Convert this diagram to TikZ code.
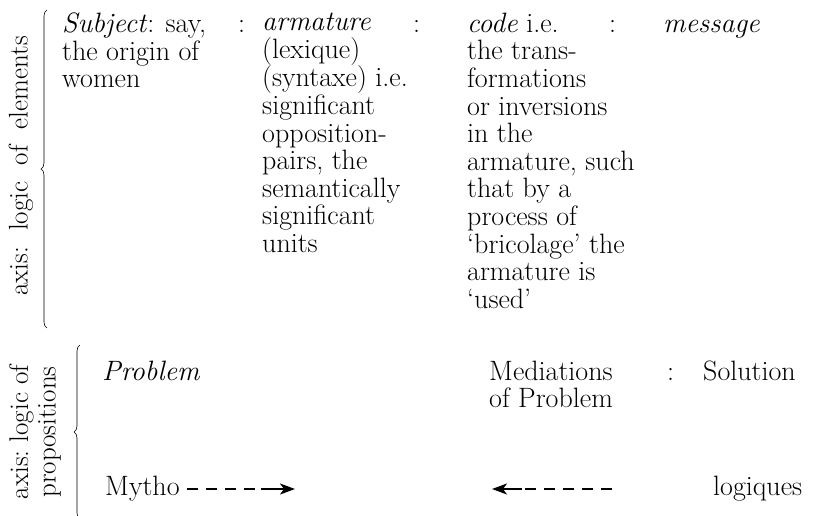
\documentclass[tikz,border=0pt]{standalone}
\usepackage{tikz}
\usetikzlibrary{arrows.meta}
\usetikzlibrary{decorations.pathreplacing}
\newcommand\bigtxt{\fontsize{28}{27.6}\selectfont}
\newcommand\axistxt{\fontsize{27}{27.6}\selectfont}

\begin{document}
\begin{tikzpicture}[x=1pt,y=-1pt,>={Stealth[length=15pt,width=11pt,inset=4pt]}]
    \tikzstyle{txt}=[anchor=north west, inner sep=0pt, align=left, font=\bigtxt, text=black, execute at begin node=\strut]
    \tikzstyle{colon}=[style=txt]
    \tikzstyle{axislabel}=[rotate=90, align=center, inner sep=0pt, font=\axistxt]
    \tikzstyle{bracket}=[decorate, decoration={brace,amplitude=6pt}, line width=0.6pt]
    \tikzstyle{dashline}=[line width=1.5pt, dash pattern=on 11pt off 8pt]
    \tikzstyle{headarrow}=[->, line width=1.5pt]
    \useasboundingbox (0,0) rectangle (815,515);

    % axis of elements
    \node[axislabel] (axel) at (21,166) {axis:\ \ logic\ \ of\ \ elements};
    \draw[bracket] (47,328) -- (47,10);
    \node[txt] (subj) at (62,12.7)  {\textit{Subject}: say,\\the origin of\\women};
    \node[colon] (c1) at (238,12.7) {:};
    \node[txt] (arm)  at (262,12.7) {\textit{armature}\\(lexique)\\(syntaxe) i.e.\\significant\\opposition-\\pairs, the\\semantically\\significant\\units};
    \node[colon] (c2) at (413,12.7) {:};
    \node[txt] (code) at (467,12.7) {\textit{code} i.e.\\the trans-\\formations\\or inversions\\in the\\armature, such\\that by a\\process of\\`bricolage' the\\armature is\\`used'};
    \node[colon] (c3) at (609,12.7) {:};
    \node[txt] (msg)  at (663,12.7) {\textit{message}};

    % axis of propositions
    \node[axislabel] (axprop) at (35,432) {axis:\ logic of\\propositions};
    \draw[bracket] (80,519) -- (80,345);
    \node[txt] (prob) at (102,360.7) {\textit{Problem}};
    \node[txt] (med)  at (489,360.7) {Mediations\\of Problem};
    \node[colon] (c4) at (667,360.7) {:};
    \node[txt] (sol)  at (703,360.7) {Solution};
    \node[txt] (mytho) at (105,475.7) {Mytho};
    \node[txt] (logi)  at (713,475.7) {logiques};
    \coordinate (rmid) at (262,489);
    \coordinate (rtip) at (295,489);
    \coordinate (lstart) at (612,489);
    \coordinate (lmid) at (522,489);
    \coordinate (ltip) at (492,489);
    \path
     (mytho.east |- rmid) edge[dashline, shorten <=7pt] (rmid)
     (rmid) edge[headarrow, shorten <=-1pt] (rtip)
     (lstart) edge[dashline] (lmid)
     (lmid) edge[headarrow] (ltip)
     ;
\end{tikzpicture}
\end{document}
